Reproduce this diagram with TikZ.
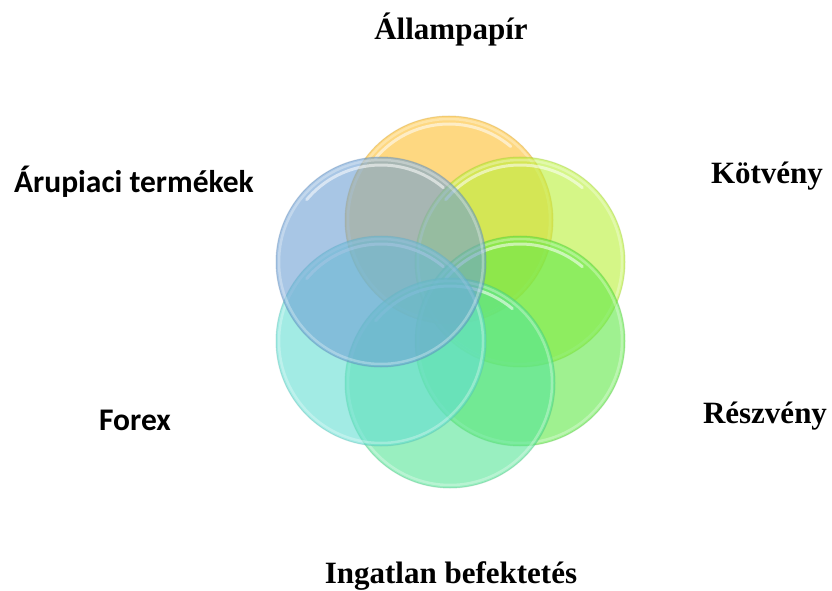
\documentclass[tikz,border=0pt]{standalone}
\usepackage{fontspec}
\setmainfont{Liberation Serif}
\newfontfamily\calibri{Carlito}
\usetikzlibrary{positioning}

\definecolor{allam}{RGB}{253,190,45}
\definecolor{kotveny}{RGB}{185,240,55}
\definecolor{reszveny}{RGB}{95,232,70}
\definecolor{ingatlan}{RGB}{85,228,150}
\definecolor{forex}{RGB}{100,222,210}
\definecolor{arupiac}{RGB}{110,160,212}

\begin{document}
\begin{tikzpicture}[x=1pt, y=1pt,
  bubble/.style={fill=#1, fill opacity=0.6, draw=#1!80!black, draw opacity=0.3, line width=1pt},
  rim/.style={white, line width=2.5pt, opacity=0.3},
  shine/.style={white, line width=3pt, opacity=0.55, line cap=round},
  serif label/.style={font=\bfseries\fontsize{31}{36}\selectfont, anchor=base},
  sans label/.style={font=\calibri\bfseries\fontsize{31.5}{36}\selectfont, anchor=base}]

\useasboundingbox (0,0) rectangle (832,590);

%bubbles
\draw[bubble=allam](449,370)circle(104);
\draw[rim](449,370)circle(101);
\draw[shine](449,370)++(140:96)arc(140:50:96);
\draw[bubble=kotveny](520,328)circle(105);
\draw[rim](520,328)circle(102);
\draw[shine](520,328)++(140:97)arc(140:50:97);
\draw[bubble=reszveny](520,249)circle(105);
\draw[rim](520,249)circle(102);
\draw[shine](520,249)++(140:97)arc(140:50:97);
\draw[bubble=ingatlan](450,207)circle(105);
\draw[rim](450,207)circle(102);
\draw[shine](450,207)++(140:97)arc(140:50:97);
\draw[bubble=forex](381,249)circle(105);
\draw[rim](381,249)circle(102);
\draw[shine](381,249)++(140:97)arc(140:50:97);
\draw[bubble=arupiac](381,328)circle(105);
\draw[rim](381,328)circle(102);
\draw[shine](381,328)++(140:97)arc(140:50:97);

%labels
\node[serif label] (allampapir) at (451,550) {Állampapír};
\node[serif label] (kotvenyl) at (767,406) {Kötvény};
\node[serif label] (reszvenyl) at (765,167) {Részvény};
\node[serif label] (ingatlanl) at (451,7) {Ingatlan befektetés};
\node[sans label] (forexl) at (135,160) {Forex};
\node[sans label] (arupiacl) at (134,397) {Árupiaci termékek};
\end{tikzpicture}
\end{document}
